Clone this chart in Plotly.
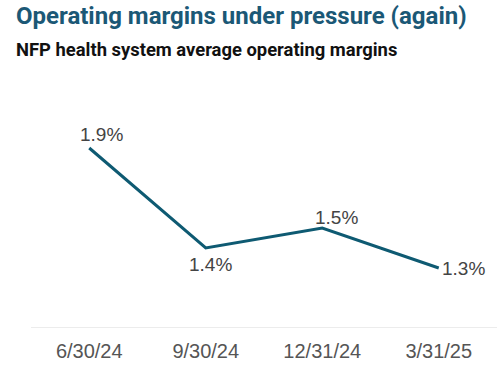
import plotly.graph_objects as go

categories = ["6/30/24", "9/30/24", "12/31/24", "3/31/25"]
margins = [1.9, 1.4, 1.5, 1.3]
labels = ["1.9%", "1.4%", "1.5%", "1.3%"]

# label offsets (px) relative to each point
label_xshift = [12, 5, 14, 25]
label_yshift = [14, -16, 11, 0]

fig = go.Figure()
fig.add_trace(go.Scatter(
    x=categories, y=margins, mode="lines",
    line=dict(color="#0e5a72", width=3),
    hoverinfo="skip", showlegend=False,
))

for c, v, t, dx, dy in zip(categories, margins, labels, label_xshift, label_yshift):
    fig.add_annotation(
        x=c, y=v, text=t, showarrow=False, xshift=dx, yshift=dy,
        font=dict(family="Liberation Sans, Arial, sans-serif", size=19, color="#444444"),
    )

fig.add_annotation(
    xref="paper", yref="paper", x=0, y=1, xanchor="left", yanchor="top",
    xshift=-17, yshift=128,
    text="<b>Operating margins under pressure (again)</b>", showarrow=False,
    font=dict(family="Roboto, sans-serif", size=24, color="#1b5876"),
)
fig.add_annotation(
    xref="paper", yref="paper", x=0, y=1, xanchor="left", yanchor="top",
    xshift=-17, yshift=91,
    text="<b>NFP health system average operating margins</b>", showarrow=False,
    font=dict(family="Roboto, sans-serif", size=18.4, color="#111111"),
)

fig.update_layout(
    width=502, height=376,
    margin=dict(l=31, r=5, t=128, b=48, autoexpand=False),
    paper_bgcolor="white", plot_bgcolor="white",
    xaxis=dict(
        showgrid=False, zeroline=False, showline=False, automargin=False,
        ticks="outside", ticklen=5, tickcolor="rgba(0,0,0,0)",
        tickfont=dict(family="Liberation Sans, Arial, sans-serif", size=20, color="#555555"),
        range=[-0.5, 3.5],
    ),
    yaxis=dict(
        range=[1.0, 2.0], showgrid=False, zeroline=False, showline=False,
        showticklabels=False, ticks="", automargin=False,
    ),
    shapes=[dict(type="line", xref="paper", yref="y", x0=0, x1=1, y0=1.0, y1=1.0,
                 line=dict(color="#d9d9d9", width=1))],
)

fig.write_html("out.html", config={"displayModeBar": False},
               post_script="document.body.style.margin='0';")
